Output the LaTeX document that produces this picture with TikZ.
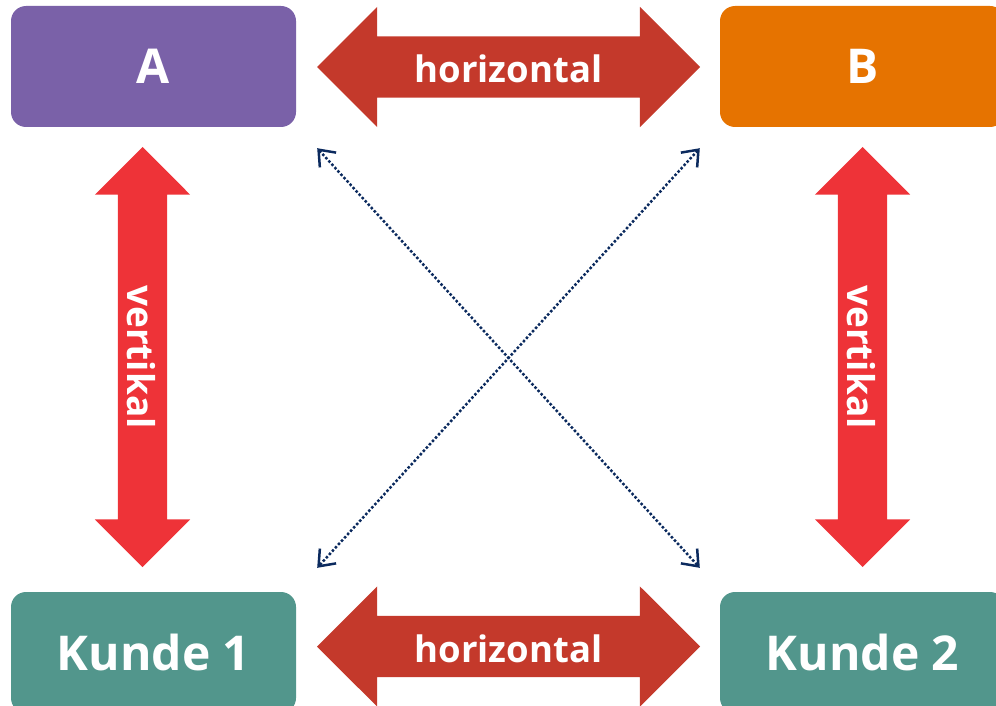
\documentclass[tikz,border=0pt]{standalone}
\usepackage{fontspec}
\setmainfont{Open Sans}
\usetikzlibrary{shapes.arrows,arrows.meta,positioning}
\definecolor{lila}{HTML}{7A61A8}
\definecolor{orange}{HTML}{E67300}
\definecolor{petrol}{HTML}{52968C}
\definecolor{dunkelrot}{HTML}{C4392B}
\definecolor{hellrot}{HTML}{EE3338}
\definecolor{marine}{HTML}{0B2A5E}
\tikzstyle{K} = [rectangle,
			rounded corners=15pt,
			minimum width=285pt, minimum height=121pt,
			text=white, font=\bfseries\fontsize{48}{48}\selectfont]
\tikzstyle{H} = [double arrow, fill=dunkelrot,
			double arrow head extend=29.5pt,
			minimum height=383pt, inner sep=0pt,
			text height=46pt, text depth=15pt,
			text=white, font=\bfseries\fontsize{36.5}{36.5}\selectfont]
\tikzstyle{V} = [double arrow, fill=hellrot, rotate=-90,
			double arrow head extend=23pt,
			minimum height=420pt, inner sep=0pt,
			text height=40pt, text depth=9pt,
			text=white, font=\bfseries\fontsize{37}{37}\selectfont]
\tikzstyle{D} = [draw=marine, line width=2.5pt, dotted,
			{Straight Barb[length=14pt,width=22pt]}-{Straight Barb[length=14pt,width=22pt]}]

\begin{document}
\begin{tikzpicture}[x=1pt, y=-1pt]

\useasboundingbox (0,0) rectangle (996,706);

\node [K, fill=lila]
(a) at (153.5,66.5)
	{A};

\node [K, fill=orange]
(b) at (862.5,66.5)
	{B};

\node [K, fill=petrol]
(k1) at (153.5,652.5)
	{Kunde 1};

\node [K, fill=petrol]
(k2) at (862.5,652.5)
	{Kunde 2};

\node [H]
(hoben) at (508.5,67)
	{horizontal};

\node [H]
(hunten) at (508.5,646.5)
	{horizontal};

\node [V]
(vlinks) at (142.5,357)
	{vertikal};

\node [V]
(vrechts) at (862.5,357)
	{vertikal};

\coordinate (as) at ([shift={(21,21)}]a.south east);
\coordinate (bs) at ([shift={(-20,21)}]b.south west);
\coordinate (k1n) at ([shift={(21,-24)}]k1.north east);
\coordinate (k2n) at ([shift={(-20,-24)}]k2.north west);

\path[D] (as) -- (k2n);

\path[D] (bs) -- (k1n);

\end{tikzpicture}
\end{document}
